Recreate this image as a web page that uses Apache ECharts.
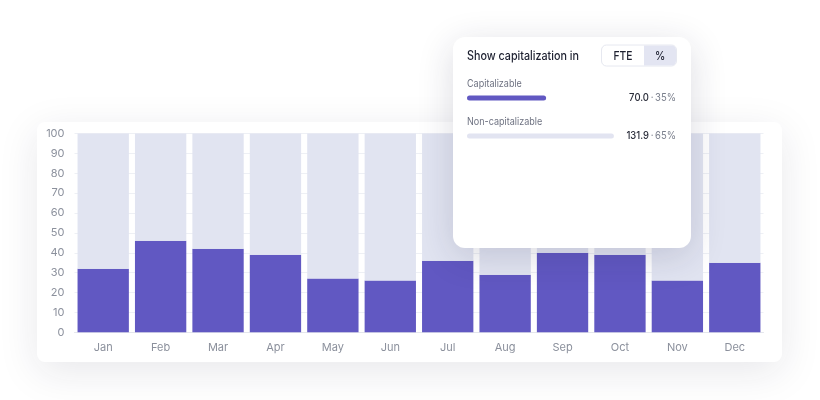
<!DOCTYPE html>
<html>
<head>
<meta charset="utf-8">
<script src="https://cdn.jsdelivr.net/npm/echarts@6/dist/echarts.min.js"></script>
<style>
  html, body { margin: 0; padding: 0; background: #ffffff; }
  #chart { width: 820px; height: 400px; }
</style>
</head>
<body>
<div id="chart"></div>
<script>
const months = ["Jan", "Feb", "Mar", "Apr", "May", "Jun", "Jul", "Aug", "Sep", "Oct", "Nov", "Dec"];
const capitalizable = [32, 46, 42, 39, 27, 26, 36, 29, 40, 39, 26, 35];
const nonCapitalizable = [68, 54, 58, 61, 73, 74, 64, 71, 60, 61, 74, 65];
const yTicks = [0, 100, 10];

const summaryNames = ["Capitalizable", "Non-capitalizable"];
const summaryFte = ["70.0", "131.9"];
const summaryPct = [35, 65];
const toggleLabels = ["FTE", "%"];
const cardTitle = "Show capitalization in";

const PURPLE = "#6158c2";
const LAVENDER = "#e1e4f1";
const FONT = "Inter, 'Noto Sans', sans-serif";
const SQ = 0.86; // card text is a bit narrower than Inter

const chart = echarts.init(document.getElementById("chart"));

const cardX = 453, cardY = 37, cardW = 238, cardH = 211;

function cardText(x, y, style) {
  return {
    type: "text", z: 22, silent: true, x: x, y: y, scaleX: SQ,
    style: Object.assign({ x: 0, y: 0, verticalAlign: "middle" }, style)
  };
}

const graphic = [
  {
    type: "rect", z: -10, silent: true,
    shape: { x: 37, y: 122, width: 745, height: 240, r: 8 },
    style: { fill: "#ffffff", shadowBlur: 40, shadowColor: "rgba(30,30,60,0.10)", shadowOffsetY: 10 }
  },
  {
    type: "rect", z: 10, silent: true,
    shape: { x: cardX, y: cardY, width: cardW, height: cardH, r: 12 },
    style: { fill: "#ffffff", shadowBlur: 36, shadowColor: "rgba(30,30,70,0.16)", shadowOffsetY: 8 }
  },
  cardText(467, 56, { text: cardTitle, font: "500 12.5px " + FONT, fill: "#1d2030" }),
  {
    type: "rect", z: 20, silent: true,
    shape: { x: 601.5, y: 45, width: 75, height: 21, r: 5 },
    style: { fill: "#ffffff", stroke: "#e6e8f0", lineWidth: 1 }
  },
  {
    type: "rect", z: 21, silent: true,
    shape: { x: 644, y: 45.5, width: 32, height: 20, r: [0, 4.5, 4.5, 0] },
    style: { fill: "#e3e5f2" }
  },
  cardText(623, 56, { text: toggleLabels[0], font: "500 12px " + FONT, fill: "#1d2030", align: "center" }),
  cardText(660, 56, { text: toggleLabels[1], font: "500 12px " + FONT, fill: "#1d2030", align: "center" })
];

summaryNames.forEach((name, i) => {
  const rowY = 84 + i * 38;
  graphic.push(cardText(467, rowY, { text: name, font: "400 10.5px " + FONT, fill: "#6d7180" }));
  graphic.push(cardText(676, rowY + 14, {
    align: "right",
    text: "{v|" + summaryFte[i] + "}{p|\u2009·\u2009" + summaryPct[i] + "%}",
    rich: {
      v: { font: "500 11px " + FONT, fill: "#2a2d3a" },
      p: { font: "400 11px " + FONT, fill: "#7a7f8c" }
    }
  }));
});

const option = {
  backgroundColor: "#ffffff",
  animation: false,
  textStyle: { fontFamily: FONT },
  graphic: graphic,
  grid: [
    { left: 74.5, right: 56.5, top: 133.5, bottom: 67.7 },
    { left: 467, top: 79, width: 226, height: 76 }
  ],
  xAxis: [
    {
      type: "category", data: months, gridIndex: 0,
      axisLine: { show: true, lineStyle: { color: "#e4e6ec" } },
      axisTick: { show: false },
      axisLabel: { color: "#8b909c", fontSize: 11, margin: 10 }
    },
    { type: "value", gridIndex: 1, min: 0, max: 100, show: false }
  ],
  yAxis: [
    {
      type: "value", gridIndex: 0, min: yTicks[0], max: yTicks[1], interval: yTicks[2],
      axisLine: { show: false },
      axisTick: { show: false },
      axisLabel: { color: "#8b909c", fontSize: 11, margin: 10 },
      splitLine: { lineStyle: { color: "#eef0f5" } }
    },
    { type: "category", gridIndex: 1, data: summaryNames, inverse: true, show: false }
  ],
  series: [
    {
      name: "Capitalizable", type: "bar", stack: "cap", data: capitalizable,
      xAxisIndex: 0, yAxisIndex: 0, barCategoryGap: "10.6%",
      itemStyle: { color: PURPLE }
    },
    {
      name: "Non-capitalizable", type: "bar", stack: "cap", data: nonCapitalizable,
      xAxisIndex: 0, yAxisIndex: 0, barCategoryGap: "10.6%",
      itemStyle: { color: LAVENDER }
    },
    {
      type: "bar", xAxisIndex: 1, yAxisIndex: 1, z: 30, barWidth: 5,
      data: summaryPct.map((v, i) => ({
        value: v,
        itemStyle: { color: i === 0 ? PURPLE : "#e2e4f1", borderRadius: 2.5 }
      }))
    }
  ]
};

chart.setOption(option);
</script>
</body>
</html>
